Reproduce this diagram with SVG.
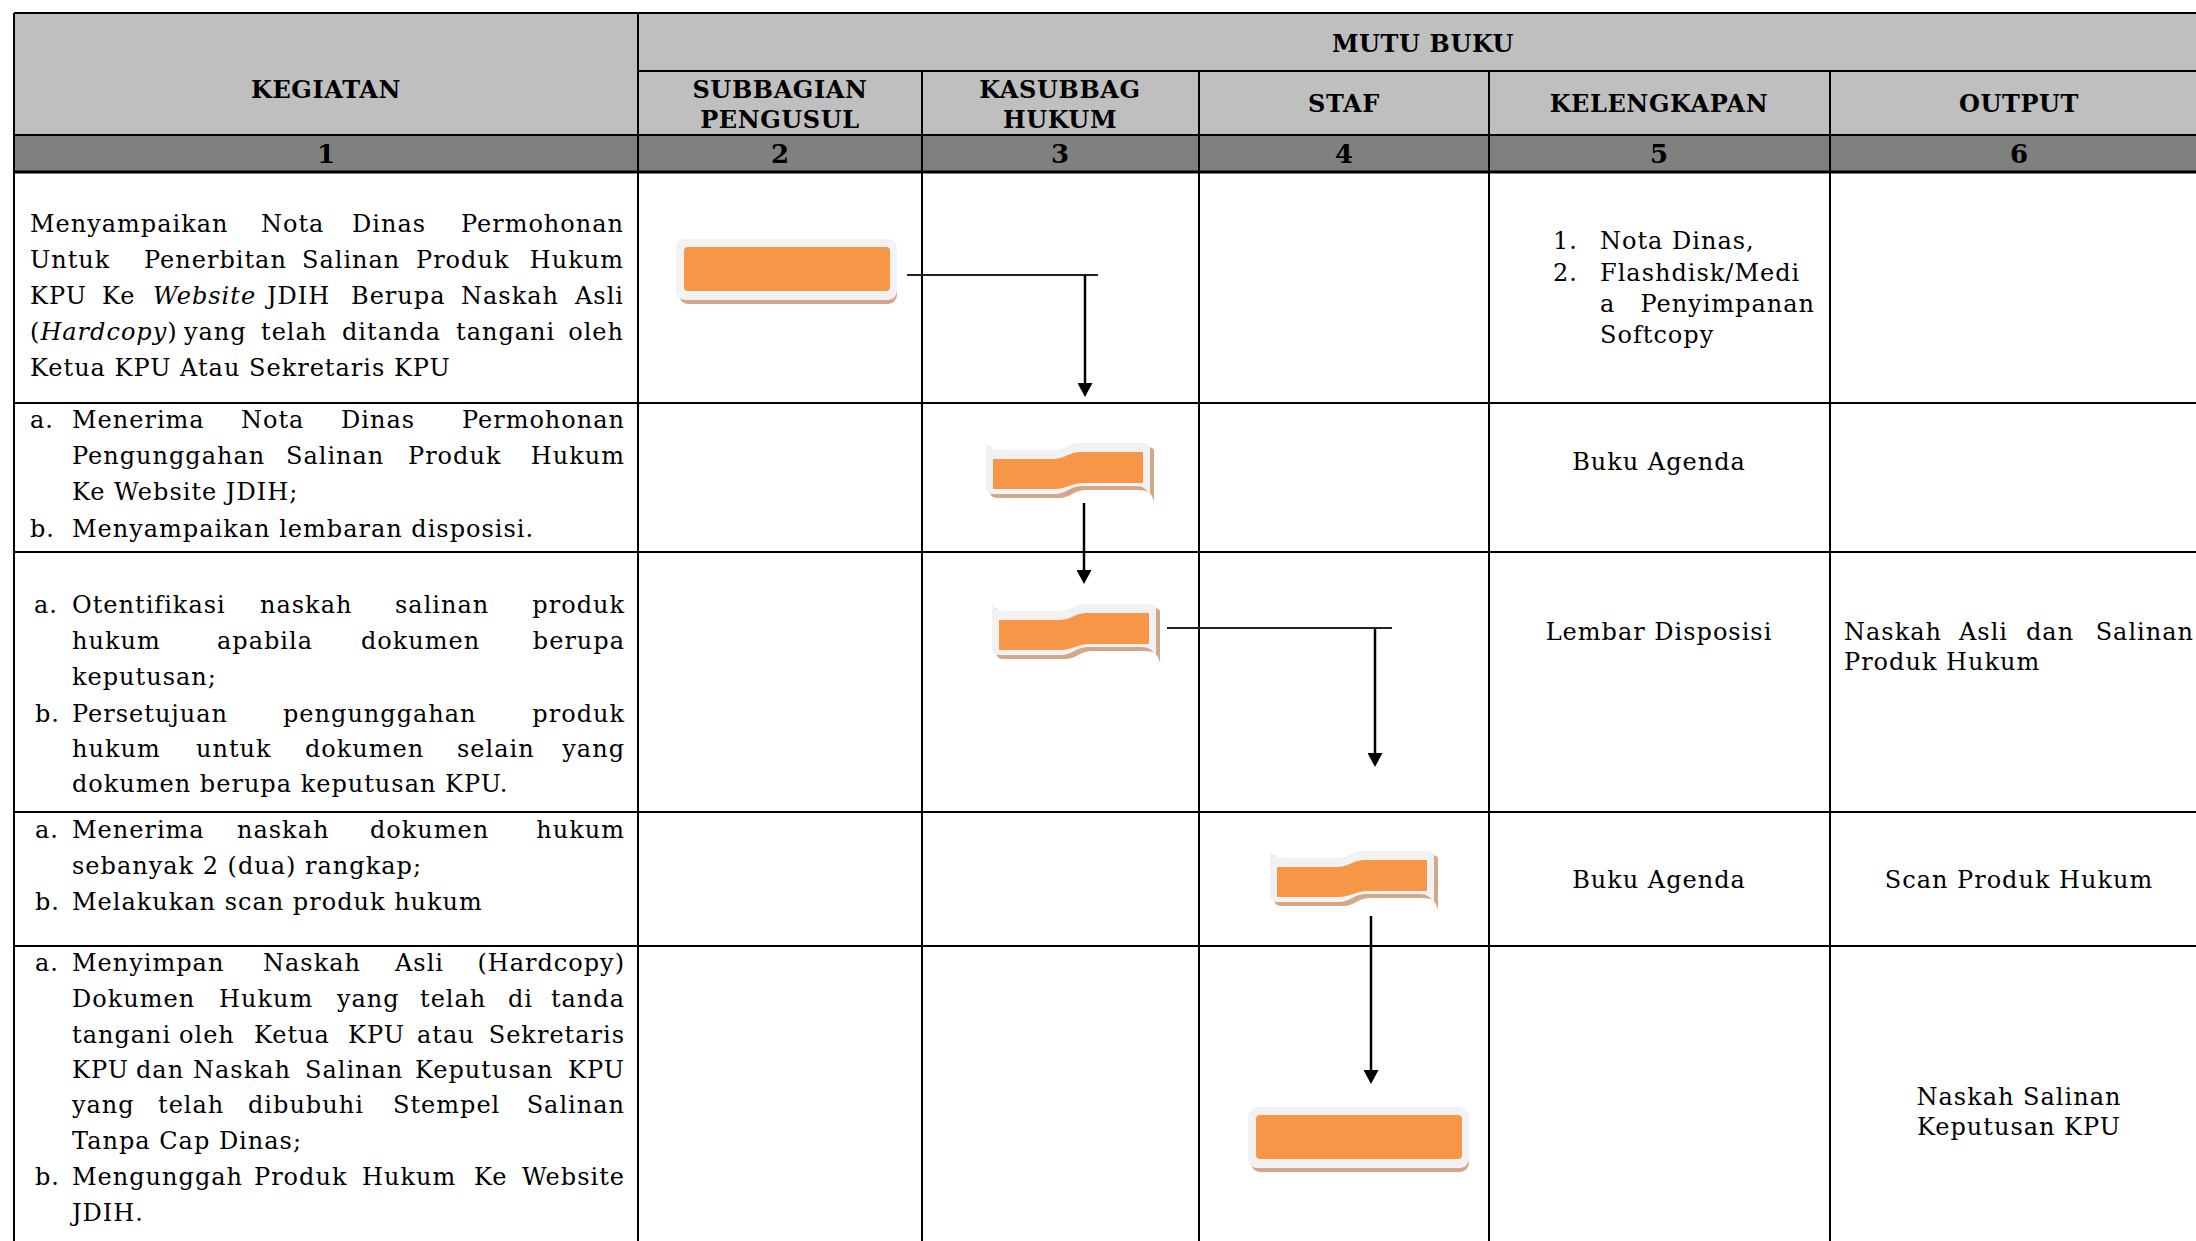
<svg xmlns="http://www.w3.org/2000/svg" xmlns:xlink="http://www.w3.org/1999/xlink" width="2196" height="1241" viewBox="0 0 2196 1241">
<style>
.t{font-family:"DejaVu Serif","Liberation Serif",serif;font-size:24px;letter-spacing:1px;fill:#000}
.i{font-style:italic}
.e{text-anchor:end}
.c{text-anchor:middle}
.h{font-family:"DejaVu Serif","Liberation Serif",serif;font-size:24px;letter-spacing:0.6px;font-weight:bold;text-anchor:middle;fill:#000}
.n{font-family:"DejaVu Serif","Liberation Serif",serif;font-size:26px;font-weight:bold;text-anchor:middle;fill:#000}
.g{stroke:#000;stroke-width:2;fill:none}
.g3{stroke:#000;stroke-width:3;fill:none}
.cn{stroke:#000;stroke-width:2.5;fill:none}
.ch{stroke:#222;stroke-width:2;fill:none}
.sh{fill:#D4A68A}
.wh{fill:#F2F2F2}
.or{fill:#F79646}
</style>
<defs>
<marker id="arr" viewBox="0 0 14 15" refX="10" refY="7.5" markerWidth="14" markerHeight="15" markerUnits="userSpaceOnUse" orient="auto">
<path d="M0,0 L14,7.5 L0,15 Z" fill="#000"/>
</marker>
<path id="wOut" d="M0,0 C2,6 6,8 16,8 L66,8 C80,8 80,1 96,1 L158,1 Q163,1 164,4 L164,56 C162,47 158,44 148,44 L98,44 C82,44 82,52 68,52 L8,52 Q1,52 0,47 Z"/>
<path id="wIn" d="M7,17 L66,17 C80,17 82,10 96,10 L157,10 L157,41 L98,41 C84,41 82,47 68,47 L7,47 Z"/>
<g id="wave">
<use xlink:href="#wOut" href="#wOut" class="sh" transform="translate(4,4)"/>
<use xlink:href="#wOut" href="#wOut" class="wh"/>
<use xlink:href="#wIn" href="#wIn" class="or"/>
</g>
<g id="box">
<rect x="3" y="4" width="218" height="61" rx="9" class="sh"/>
<rect x="0" y="0" width="221" height="61" rx="9" class="wh"/>
<rect x="8" y="8" width="206" height="44" rx="4" class="or"/>
</g>
</defs>

<rect width="2196" height="1241" fill="#fff"/>

<g id="table">
<rect x="14" y="13" width="2182" height="122" fill="#BFBFBF"/>
<rect x="14" y="135" width="2182" height="37" fill="#808080"/>
<line class="g" x1="14" y1="13" x2="2196" y2="13"/>
<line class="g" x1="638" y1="71" x2="2196" y2="71"/>
<line class="g" x1="14" y1="135" x2="2196" y2="135"/>
<line class="g3" x1="14" y1="172" x2="2196" y2="172"/>
<line class="g" x1="14" y1="403" x2="2196" y2="403"/>
<line class="g" x1="14" y1="552" x2="2196" y2="552"/>
<line class="g" x1="14" y1="812" x2="2196" y2="812"/>
<line class="g" x1="14" y1="946" x2="2196" y2="946"/>
<line class="g" x1="14" y1="13" x2="14" y2="1241"/>
<line class="g" x1="638" y1="13" x2="638" y2="1241"/>
<line class="g" x1="922" y1="71" x2="922" y2="1241"/>
<line class="g" x1="1199" y1="71" x2="1199" y2="1241"/>
<line class="g" x1="1489" y1="71" x2="1489" y2="1241"/>
<line class="g" x1="1830" y1="71" x2="1830" y2="1241"/>
</g>

<g id="headers">
<text class="h" x="326" y="98">KEGIATAN</text>
<text class="h" x="1423" y="52">MUTU BUKU</text>
<text class="h" x="780" y="98">SUBBAGIAN</text>
<text class="h" x="780" y="128">PENGUSUL</text>
<text class="h" x="1060" y="98">KASUBBAG</text>
<text class="h" x="1060" y="128">HUKUM</text>
<text class="h" x="1344" y="112">STAF</text>
<text class="h" x="1659" y="112">KELENGKAPAN</text>
<text class="h" x="2019" y="112">OUTPUT</text>
<text class="n" x="326" y="163">1</text>
<text class="n" x="780" y="163">2</text>
<text class="n" x="1060" y="163">3</text>
<text class="n" x="1344" y="163">4</text>
<text class="n" x="1659" y="163">5</text>
<text class="n" x="2019" y="163">6</text>
</g>

<g id="kegiatan">
<text class="t" y="232"><tspan x="30">Menyampaikan</tspan><tspan x="261">Nota</tspan><tspan x="352">Dinas</tspan></text>
<text class="t e" x="624" y="232">Permohonan</text>
<text class="t" y="268"><tspan x="30">Untuk</tspan><tspan x="144">Penerbitan</tspan><tspan x="302">Salinan</tspan><tspan x="416">Produk</tspan></text>
<text class="t e" x="624" y="268">Hukum</text>
<text class="t" y="304"><tspan x="30">KPU</tspan><tspan x="102">Ke</tspan><tspan x="153" class="i">Website</tspan><tspan x="267">JDIH</tspan><tspan x="351">Berupa</tspan><tspan x="461">Naskah</tspan></text>
<text class="t e" x="624" y="304">Asli</text>
<text class="t" y="340"><tspan x="30">(</tspan><tspan class="i">Hardcopy</tspan><tspan>)</tspan><tspan x="184">yang</tspan><tspan x="261">telah</tspan><tspan x="342">ditanda</tspan><tspan x="456">tangani</tspan></text>
<text class="t e" x="624" y="340">oleh</text>
<text class="t" x="30" y="376">Ketua KPU Atau Sekretaris KPU</text>

<text class="t" y="428"><tspan x="30">a.</tspan><tspan x="72">Menerima</tspan><tspan x="241">Nota</tspan><tspan x="341">Dinas</tspan></text>
<text class="t e" x="625" y="428">Permohonan</text>
<text class="t" y="464"><tspan x="72">Pengunggahan</tspan><tspan x="286">Salinan</tspan><tspan x="408">Produk</tspan></text>
<text class="t e" x="625" y="464">Hukum</text>
<text class="t" x="72" y="500">Ke Website JDIH;</text>
<text class="t" y="537"><tspan x="30">b.</tspan><tspan x="72">Menyampaikan lembaran disposisi.</tspan></text>

<text class="t" y="613"><tspan x="34">a.</tspan><tspan x="72">Otentifikasi</tspan><tspan x="260">naskah</tspan><tspan x="395">salinan</tspan></text>
<text class="t e" x="625" y="613">produk</text>
<text class="t" y="649"><tspan x="72">hukum</tspan><tspan x="217">apabila</tspan><tspan x="361">dokumen</tspan></text>
<text class="t e" x="625" y="649">berupa</text>
<text class="t" x="72" y="685">keputusan;</text>
<text class="t" y="722"><tspan x="35">b.</tspan><tspan x="72">Persetujuan</tspan><tspan x="283">pengunggahan</tspan></text>
<text class="t e" x="625" y="722">produk</text>
<text class="t" y="757"><tspan x="72">hukum</tspan><tspan x="196">untuk</tspan><tspan x="305">dokumen</tspan><tspan x="457">selain</tspan></text>
<text class="t e" x="625" y="757">yang</text>
<text class="t" x="72" y="792">dokumen berupa keputusan KPU.</text>

<text class="t" y="838"><tspan x="35">a.</tspan><tspan x="72">Menerima</tspan><tspan x="237">naskah</tspan><tspan x="370">dokumen</tspan></text>
<text class="t e" x="625" y="838">hukum</text>
<text class="t" x="72" y="874">sebanyak 2 (dua) rangkap;</text>
<text class="t" y="910"><tspan x="35">b.</tspan><tspan x="72">Melakukan scan produk hukum</tspan></text>

<text class="t" y="971"><tspan x="35">a.</tspan><tspan x="72">Menyimpan</tspan><tspan x="263">Naskah</tspan><tspan x="395">Asli</tspan></text>
<text class="t e" x="625" y="971">(Hardcopy)</text>
<text class="t" y="1007"><tspan x="72">Dokumen</tspan><tspan x="219">Hukum</tspan><tspan x="337">yang</tspan><tspan x="420">telah</tspan><tspan x="508">di</tspan></text>
<text class="t e" x="625" y="1007">tanda</text>
<text class="t" y="1043"><tspan x="72">tangani</tspan><tspan x="179">oleh</tspan><tspan x="254">Ketua</tspan><tspan x="348">KPU</tspan><tspan x="417">atau</tspan></text>
<text class="t e" x="625" y="1043">Sekretaris</text>
<text class="t" y="1078"><tspan x="72">KPU</tspan><tspan x="136">dan</tspan><tspan x="193">Naskah</tspan><tspan x="305">Salinan</tspan><tspan x="415">Keputusan</tspan></text>
<text class="t e" x="625" y="1078">KPU</text>
<text class="t" y="1113"><tspan x="72">yang</tspan><tspan x="158">telah</tspan><tspan x="248">dibubuhi</tspan><tspan x="393">Stempel</tspan></text>
<text class="t e" x="625" y="1113">Salinan</text>
<text class="t" x="72" y="1149">Tanpa Cap Dinas;</text>
<text class="t" y="1185"><tspan x="35">b.</tspan><tspan x="72">Mengunggah</tspan><tspan x="254">Produk</tspan><tspan x="362">Hukum</tspan><tspan x="474">Ke</tspan></text>
<text class="t e" x="625" y="1185">Website</text>
<text class="t" x="72" y="1221">JDIH.</text>
</g>

<g id="kelengkapan">
<text class="t" y="249"><tspan x="1553">1.</tspan><tspan x="1600">Nota Dinas,</tspan></text>
<text class="t" y="281"><tspan x="1553">2.</tspan><tspan x="1600">Flashdisk/Medi</tspan></text>
<text class="t" x="1600" y="312">a</text>
<text class="t e" x="1815" y="312">Penyimpanan</text>
<text class="t" x="1600" y="343">Softcopy</text>
<text class="t c" x="1659" y="470">Buku Agenda</text>
<text class="t c" x="1659" y="640">Lembar Disposisi</text>
<text class="t c" x="1659" y="888">Buku Agenda</text>
</g>

<g id="output">
<text class="t" y="640"><tspan x="1844">Naskah</tspan><tspan x="1959">Asli</tspan><tspan x="2026">dan</tspan></text>
<text class="t e" x="2194" y="640">Salinan</text>
<text class="t" x="1844" y="670">Produk Hukum</text>
<text class="t c" x="2019" y="888">Scan Produk Hukum</text>
<text class="t c" x="2019" y="1105">Naskah Salinan</text>
<text class="t c" x="2019" y="1135">Keputusan KPU</text>
</g>

<g id="node1"><use xlink:href="#box" href="#box" transform="translate(676,239)"/></g>
<g id="node2"><use xlink:href="#wave" href="#wave" transform="translate(986,442)"/></g>
<g id="node3"><use xlink:href="#wave" href="#wave" transform="translate(992,603)"/></g>
<g id="node4"><use xlink:href="#wave" href="#wave" transform="translate(1270,850)"/></g>
<g id="node5"><use xlink:href="#box" href="#box" transform="translate(1248,1107)"/></g>

<g id="connectors">
<line class="ch" x1="907" y1="275" x2="1098" y2="275"/>
<line class="cn" x1="1085" y1="275" x2="1085" y2="393" marker-end="url(#arr)"/>
<line class="cn" x1="1084" y1="503" x2="1084" y2="580" marker-end="url(#arr)"/>
<line class="ch" x1="1167" y1="628" x2="1392" y2="628"/>
<line class="cn" x1="1375" y1="629" x2="1375" y2="763" marker-end="url(#arr)"/>
<line class="cn" x1="1371" y1="916" x2="1371" y2="1080" marker-end="url(#arr)"/>
</g>
</svg>
